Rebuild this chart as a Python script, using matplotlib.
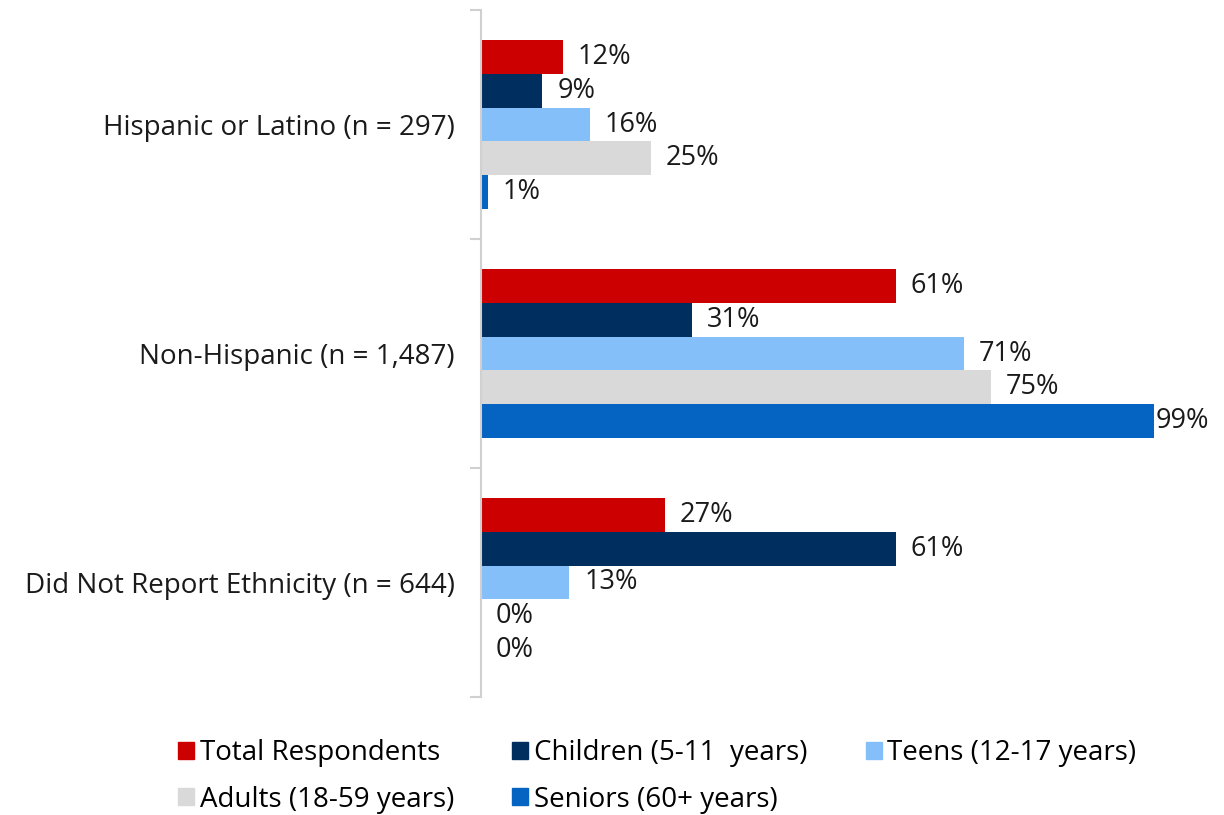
import numpy as np
import matplotlib.pyplot as plt
from matplotlib.patches import Patch

plt.rcParams['font.family'] = ['Open Sans', 'DejaVu Sans']

groups = ['Hispanic or Latino (n = 297)', 'Non-Hispanic (n = 1,487)',
          'Did Not Report Ethnicity (n = 644)']
series = ['Total Respondents', 'Children (5-11  years)', 'Teens (12-17 years)',
          'Adults (18-59 years)', 'Seniors (60+ years)']
total = [12, 61, 27]
children = [9, 31, 61]
teens = [16, 71, 13]
adults = [25, 75, 0]
seniors = [1, 99, 0]
colors = ['#CC0000', '#002F5F', '#85BFFA', '#D9D9D9', '#0563C1']

values = [total, children, teens, adults, seniors]

fig = plt.figure(figsize=(12.24, 8.15), dpi=100)
ax = fig.add_axes([0.393, 0.1448, 0.5556, 0.8429])

h = 0.148
y = np.arange(len(groups))
for j, (vals, c) in enumerate(zip(values, colors)):
    pos = y + (j - 2) * h
    ax.barh(pos, vals, height=h, color=c, label=series[j])
    for p, v in zip(pos, vals):
        ax.text(min(v + 2.2, 99.2), p, f'{v}%', va='center', ha='left',
                fontsize=19.5, color='#1a1a1a')

ax.set_xlim(0, 100)
ax.set_ylim(2.5, -0.5)
ax.set_yticks(y)
ax.set_yticklabels(groups, fontsize=20, color='#1a1a1a')
ax.set_yticks([-0.5, 0.5, 1.5, 2.5], minor=True)
ax.tick_params(axis='y', which='major', length=0, pad=19)
ax.tick_params(axis='y', which='minor', length=8, color='#D0D0D0', width=1.5)
ax.set_xticks([])
for s in ['top', 'right', 'bottom']:
    ax.spines[s].set_visible(False)
ax.spines['left'].set_color('#D0D0D0')
ax.spines['left'].set_linewidth(1.5)

# legend is filled column by column, so order the handles to read row-wise
handles = [Patch(color=c) for c in colors]
order = [0, 3, 1, 4, 2]
fig.legend([handles[i] for i in order], [series[i] for i in order],
           ncol=3, loc='lower center', bbox_to_anchor=(0.537, -0.029),
           frameon=False, fontsize=20, handlelength=0.58, handleheight=0.58,
           handletextpad=0.2, columnspacing=2.1, labelspacing=0.66)

fig.savefig('out.png', dpi=100)
